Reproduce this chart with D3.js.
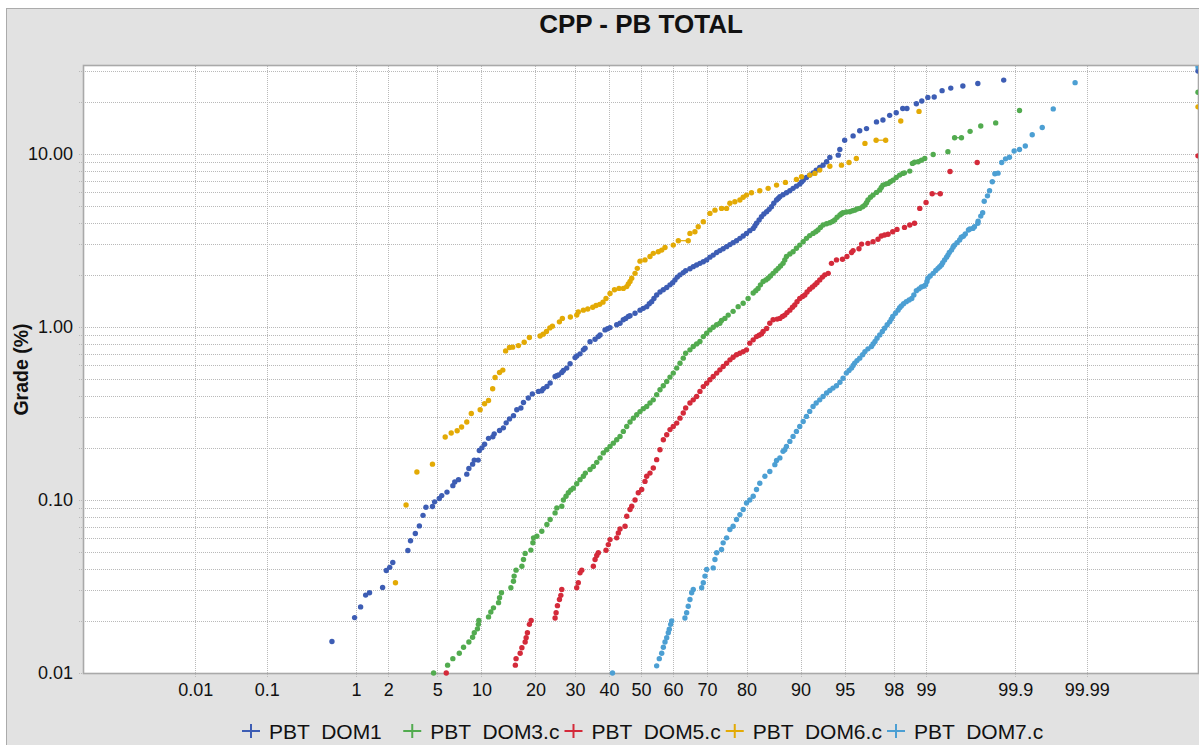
<!DOCTYPE html>
<html>
<head>
<meta charset="utf-8">
<script src="https://cdn.jsdelivr.net/npm/d3@7"></script>
<style>
  html, body { margin: 0; padding: 0; background: #ffffff; }
  svg { display: block; font-family: "Liberation Sans", Arial, sans-serif; }
</style>
</head>
<body>
<svg id="chart" width="1199" height="745"></svg>
<script>
// Cumulative probability (%) and grade (%) for each domain, sorted by grade.
const dom1 = [[0.57,0.0152],[0.97,0.0209],[1.11,0.0241],[1.24,0.0282],[1.35,0.0291],[1.78,0.0312],[1.92,0.0391],[2.06,0.0408],[2.19,0.0435],[2.94,0.051],[3.09,0.0581],[3.38,0.064],[3.64,0.0708],[3.89,0.0815],[4.10,0.0907],[4.60,0.0916],[4.77,0.0975],[5.17,0.102],[5.39,0.106],[5.88,0.111],[6.47,0.121],[6.67,0.127],[7.08,0.131],[8.05,0.141],[8.31,0.152],[8.79,0.161],[9.01,0.170],[9.54,0.170],[9.70,0.193],[10.07,0.200],[10.46,0.210],[11.06,0.227],[11.74,0.232],[11.96,0.241],[12.85,0.252],[13.52,0.261],[14.02,0.279],[14.63,0.294],[15.38,0.307],[16.03,0.332],[16.86,0.340],[17.39,0.366],[18.42,0.388],[19.30,0.410],[20.67,0.424],[21.45,0.428],[21.84,0.440],[22.67,0.453],[23.47,0.474],[24.71,0.517],[25.15,0.522],[25.57,0.528],[26.44,0.545],[26.86,0.560],[27.75,0.578],[28.66,0.612],[30.03,0.665],[30.50,0.680],[31.43,0.699],[32.38,0.737],[32.87,0.753],[34.31,0.822],[35.80,0.849],[36.78,0.879],[37.30,0.899],[38.79,0.961],[39.56,0.975],[40.33,0.991],[42.39,1.03],[43.42,1.05],[44.45,1.10],[45.20,1.12],[46.02,1.15],[46.55,1.16],[48.12,1.20],[49.69,1.25],[50.72,1.28],[51.79,1.31],[52.60,1.36],[53.35,1.40],[54.07,1.46],[54.92,1.53],[55.96,1.59],[56.99,1.64],[58.05,1.69],[59.06,1.75],[59.89,1.80],[60.59,1.87],[61.30,1.94],[62.12,2.00],[63.10,2.06],[63.82,2.11],[65.09,2.17],[66.06,2.23],[67.04,2.28],[67.99,2.33],[68.95,2.38],[69.89,2.44],[70.79,2.53],[71.69,2.60],[72.62,2.69],[73.47,2.76],[74.33,2.83],[75.21,2.91],[76.04,2.99],[76.84,3.07],[77.67,3.15],[78.47,3.25],[79.24,3.35],[80.00,3.47],[80.74,3.60],[81.48,3.71],[81.84,3.83],[82.19,3.97],[82.73,4.15],[83.22,4.33],[83.70,4.49],[84.25,4.63],[84.73,4.78],[85.18,4.95],[85.61,5.18],[86.11,5.41],[86.41,5.53],[86.70,5.65],[87.25,5.80],[87.82,5.96],[88.37,6.12],[88.88,6.32],[89.39,6.51],[89.88,6.69],[90.14,6.87],[90.37,7.05],[90.82,7.31],[91.25,7.54],[91.68,7.77],[92.07,8.05],[92.49,8.35],[92.87,8.61],[93.26,9.00],[93.60,9.54],[94.43,9.83],[94.57,10.6],[95.00,12.0],[95.68,12.7],[96.16,13.6],[96.61,14.0],[97.19,15.3],[97.52,15.7],[97.83,16.7],[98.10,17.3],[98.34,18.3],[98.48,18.3],[98.76,19.5],[98.90,20.2],[99.04,21.2],[99.17,21.3],[99.31,23.2],[99.44,24.0],[99.585,24.7],[99.718,25.5],[99.861,26.7],[99.999883,30.1]];

const dom3 = [[4.69,0.0100],[5.94,0.0111],[6.47,0.0121],[7.17,0.0130],[7.66,0.0141],[8.31,0.0151],[8.79,0.0161],[9.01,0.0171],[9.44,0.0180],[9.57,0.0191],[9.63,0.0201],[11.06,0.0211],[11.42,0.0225],[11.84,0.0238],[12.68,0.0255],[12.85,0.0272],[13.18,0.0291],[14.89,0.0311],[15.38,0.0339],[15.51,0.0363],[15.89,0.0393],[17.06,0.0414],[17.39,0.0453],[17.74,0.0491],[18.97,0.0513],[19.42,0.0566],[19.55,0.0604],[20.31,0.0617],[21.45,0.0659],[22.67,0.0721],[23.47,0.0771],[24.71,0.0842],[25.15,0.0900],[26.44,0.0919],[26.86,0.100],[27.56,0.105],[28.19,0.110],[28.85,0.114],[29.56,0.117],[30.50,0.124],[31.43,0.131],[32.38,0.137],[32.96,0.143],[34.31,0.150],[35.29,0.156],[36.30,0.165],[37.29,0.175],[38.27,0.187],[39.31,0.195],[40.33,0.204],[41.34,0.213],[42.39,0.223],[43.42,0.233],[44.45,0.249],[45.51,0.266],[46.55,0.282],[47.59,0.297],[48.65,0.311],[49.69,0.324],[50.72,0.337],[51.79,0.347],[52.82,0.363],[53.85,0.379],[54.92,0.406],[55.96,0.433],[56.99,0.457],[58.05,0.484],[59.06,0.513],[60.07,0.541],[61.12,0.578],[62.12,0.617],[63.10,0.660],[63.82,0.705],[65.09,0.737],[66.06,0.770],[67.04,0.798],[67.99,0.823],[68.95,0.879],[69.89,0.920],[70.79,0.961],[71.69,0.996],[72.62,1.03],[73.47,1.05],[73.91,1.09],[74.77,1.12],[75.62,1.17],[76.84,1.23],[78.06,1.31],[79.24,1.37],[80.36,1.46],[81.48,1.57],[82.04,1.62],[82.52,1.67],[83.01,1.75],[83.55,1.83],[84.11,1.87],[84.54,1.91],[84.99,1.97],[85.48,2.04],[85.98,2.11],[86.41,2.18],[86.82,2.25],[87.25,2.33],[87.54,2.44],[87.82,2.55],[88.37,2.64],[88.88,2.72],[89.39,2.85],[89.88,2.97],[90.37,3.11],[90.82,3.25],[91.25,3.37],[91.68,3.47],[92.02,3.55],[92.29,3.63],[92.57,3.76],[92.87,3.88],[93.26,3.95],[93.60,4.00],[93.87,4.07],[94.09,4.15],[94.32,4.30],[94.58,4.43],[94.72,4.51],[94.85,4.57],[95.14,4.61],[95.42,4.63],[95.63,4.69],[95.80,4.73],[95.97,4.80],[96.16,4.84],[96.36,4.95],[96.51,5.06],[96.61,5.22],[96.70,5.41],[96.85,5.61],[97.00,5.78],[97.19,5.99],[97.36,6.18],[97.44,6.40],[97.52,6.60],[97.65,6.69],[97.76,6.75],[97.86,6.90],[97.97,7.05],[98.10,7.31],[98.23,7.54],[98.34,7.71],[98.40,7.77],[98.57,7.95],[98.65,8.81],[98.71,8.95],[98.81,9.00],[98.89,9.20],[98.97,9.41],[99.15,9.92],[99.40,10.3],[99.49,12.4],[99.57,12.4],[99.655,13.5],[99.739,14.5],[99.826,15.1],[99.912,17.8],[99.999883,22.7]];

const dom5 = [[5.81,0.0100],[15.75,0.0111],[15.89,0.0121],[16.71,0.0130],[17.06,0.0140],[17.74,0.0151],[17.95,0.0160],[18.22,0.0171],[18.65,0.0191],[19.03,0.0201],[24.71,0.0208],[24.97,0.0223],[25.31,0.0245],[25.83,0.0266],[26.19,0.0281],[26.44,0.0304],[30.50,0.0311],[30.94,0.0332],[31.43,0.0379],[31.92,0.0393],[35.29,0.0414],[35.80,0.0453],[36.30,0.0478],[36.78,0.0495],[39.10,0.0512],[39.80,0.0552],[40.33,0.0590],[42.39,0.0604],[42.89,0.0645],[43.42,0.0680],[44.99,0.0705],[45.51,0.0805],[46.55,0.0880],[47.08,0.0919],[48.12,0.100],[49.15,0.110],[50.22,0.115],[51.25,0.128],[51.79,0.137],[52.82,0.143],[53.86,0.153],[54.92,0.171],[55.96,0.195],[57.00,0.223],[58.05,0.238],[59.06,0.255],[60.07,0.266],[61.12,0.278],[62.12,0.297],[63.10,0.318],[63.82,0.340],[65.09,0.363],[66.06,0.379],[67.04,0.396],[67.99,0.424],[68.95,0.452],[69.89,0.473],[70.79,0.495],[71.69,0.517],[72.62,0.541],[73.47,0.565],[74.33,0.590],[75.21,0.617],[76.06,0.645],[76.84,0.668],[77.67,0.690],[78.47,0.705],[79.24,0.720],[80.00,0.737],[80.74,0.806],[81.48,0.842],[82.19,0.879],[82.73,0.895],[83.22,0.911],[83.55,0.940],[84.25,0.980],[84.86,1.05],[85.48,1.10],[86.22,1.11],[86.70,1.12],[87.15,1.15],[87.54,1.17],[87.92,1.21],[88.37,1.25],[88.79,1.30],[89.14,1.34],[89.48,1.40],[89.88,1.46],[90.29,1.50],[90.60,1.53],[90.90,1.59],[91.25,1.65],[91.61,1.70],[91.91,1.75],[92.17,1.80],[92.49,1.87],[92.80,1.94],[93.07,2.00],[93.43,2.04],[93.77,2.33],[94.26,2.44],[94.81,2.46],[95.19,2.55],[95.56,2.69],[95.68,2.76],[96.11,2.83],[96.29,3.01],[96.70,3.04],[97.00,3.11],[97.27,3.21],[97.44,3.35],[97.60,3.40],[97.76,3.43],[97.96,3.55],[98.13,3.66],[98.40,3.76],[98.57,3.88],[98.71,3.97],[98.85,4.84],[99.00,5.24],[99.13,5.88],[99.28,5.88],[99.43,7.91],[99.713,8.92],[99.999883,9.74]];

const dom6 = [[2.31,0.0332],[2.84,0.0936],[3.48,0.145],[4.60,0.161],[5.71,0.231],[6.30,0.244],[6.93,0.251],[7.43,0.264],[8.05,0.282],[8.62,0.316],[9.82,0.332],[10.46,0.360],[11.06,0.376],[11.71,0.439],[12.10,0.510],[12.85,0.545],[13.42,0.563],[13.92,0.727],[14.63,0.760],[15.23,0.764],[16.36,0.780],[17.54,0.816],[18.65,0.868],[21.05,0.887],[21.77,0.908],[22.57,0.940],[23.39,0.987],[24.03,1.01],[25.82,1.07],[26.59,1.12],[28.74,1.14],[30.50,1.17],[30.94,1.22],[32.38,1.25],[33.65,1.27],[35.11,1.30],[36.10,1.33],[37.19,1.35],[38.18,1.39],[39.10,1.46],[40.33,1.56],[41.70,1.64],[43.11,1.67],[44.45,1.67],[45.51,1.71],[46.02,1.77],[46.55,1.83],[47.08,1.91],[48.12,2.04],[48.84,2.18],[49.69,2.40],[51.25,2.44],[52.82,2.55],[53.86,2.66],[55.42,2.72],[56.49,2.78],[57.52,2.88],[60.07,2.97],[61.61,3.15],[64.59,3.15],[65.09,3.47],[66.55,3.55],[67.50,3.79],[68.95,4.05],[70.79,4.53],[72.16,4.73],[73.91,4.84],[75.21,4.84],[76.04,5.18],[77.27,5.29],[78.47,5.41],[79.24,5.61],[80.00,5.78],[81.11,5.96],[82.87,6.12],[84.54,6.32],[86.11,6.60],[87.65,6.84],[89.39,7.12],[90.14,7.37],[91.25,7.54],[91.91,7.71],[92.49,8.06],[93.60,8.49],[94.72,8.61],[95.36,8.92],[95.92,9.41],[96.51,11.5],[97.17,12.0],[97.65,12.0],[98.27,15.5],[98.83,17.6],[99.999883,18.7]];

const dom7 = [[41.09,0.0100],[54.92,0.0110],[55.74,0.0121],[56.49,0.0130],[57.00,0.0141],[57.52,0.0151],[58.05,0.0160],[58.54,0.0171],[58.85,0.0179],[59.28,0.0191],[59.58,0.0200],[63.60,0.0208],[64.11,0.0223],[64.59,0.0243],[65.09,0.0266],[65.60,0.0291],[66.06,0.0304],[68.49,0.0311],[68.95,0.0332],[69.42,0.0363],[69.89,0.0396],[71.69,0.0405],[72.16,0.0453],[72.62,0.0495],[73.91,0.0517],[74.33,0.0565],[75.21,0.0604],[76.04,0.0675],[76.84,0.0705],[77.67,0.0771],[78.47,0.0823],[79.24,0.0880],[80.00,0.0961],[80.74,0.100],[81.48,0.105],[82.19,0.115],[82.87,0.125],[83.90,0.137],[84.86,0.146],[85.80,0.160],[86.11,0.169],[86.70,0.175],[87.25,0.191],[87.54,0.195],[87.82,0.204],[88.37,0.218],[88.88,0.233],[89.39,0.249],[89.88,0.266],[90.37,0.284],[90.82,0.304],[91.25,0.325],[91.68,0.347],[92.07,0.363],[92.49,0.379],[92.87,0.396],[93.26,0.415],[93.60,0.429],[93.92,0.443],[94.26,0.457],[94.58,0.479],[94.86,0.505],[95.14,0.541],[95.36,0.560],[95.56,0.578],[95.68,0.598],[95.80,0.618],[95.97,0.639],[96.16,0.660],[96.36,0.690],[96.51,0.720],[96.70,0.747],[96.91,0.770],[97.00,0.798],[97.11,0.823],[97.22,0.861],[97.36,0.899],[97.49,0.940],[97.60,0.983],[97.72,1.03],[97.83,1.07],[97.90,1.11],[97.96,1.15],[98.07,1.20],[98.17,1.25],[98.23,1.29],[98.29,1.32],[98.37,1.36],[98.46,1.40],[98.55,1.43],[98.63,1.46],[98.69,1.53],[98.76,1.62],[98.83,1.66],[98.89,1.70],[98.95,1.72],[98.99,1.75],[99.02,1.83],[99.04,1.91],[99.09,1.97],[99.15,2.04],[99.20,2.12],[99.24,2.18],[99.27,2.23],[99.30,2.28],[99.32,2.35],[99.35,2.44],[99.38,2.53],[99.40,2.60],[99.42,2.69],[99.45,2.78],[99.47,2.89],[99.49,2.97],[99.52,3.07],[99.55,3.18],[99.568,3.30],[99.59,3.34],[99.61,3.44],[99.64,3.63],[99.653,3.68],[99.679,3.71],[99.692,3.79],[99.718,3.97],[99.72,4.08],[99.739,4.37],[99.752,4.57],[99.762,5.32],[99.782,5.72],[99.794,6.12],[99.809,6.90],[99.822,7.67],[99.837,7.74],[99.853,8.92],[99.868,9.36],[99.882,9.57],[99.897,10.4],[99.912,10.6],[99.926,11.1],[99.940,12.9],[99.956,14.2],[99.969,18.2],[99.985,25.8],[99.999883,31.8]];

const seriesNames = ["PBT  DOM1", "PBT  DOM3.csv", "PBT  DOM5.csv", "PBT  DOM6.csv", "PBT  DOM7.csv"];
const seriesColors = ["#3d5db4", "#52ab4f", "#d42a3a", "#e3aa05", "#4c9fd3"];
const probTicks = [0.01, 0.1, 1, 2, 5, 10, 20, 30, 40, 50, 60, 70, 80, 90, 95, 98, 99, 99.9, 99.99];
const gradeLabels = [0.01, 0.1, 1, 10];
const probRange = [0.000117, 99.999883];
const gradeRange = [0.01, 32.2];
const title = "CPP - PB TOTAL";
const yTitle = "Grade (%)";

// Inverse standard normal CDF (Acklam's rational approximation).
function normalQuantile(p) {
  const a = [-3.969683028665376e+01, 2.209460984245205e+02, -2.759285104469687e+02, 1.383577518672690e+02, -3.066479806614716e+01, 2.506628277459239e+00];
  const b = [-5.447609879822406e+01, 1.615858368580409e+02, -1.556989798598866e+02, 6.680131188771972e+01, -1.328068155288572e+01];
  const c = [-7.784894002430293e-03, -3.223964580411365e-01, -2.400758277161838e+00, -2.549732539343734e+00, 4.374664141464968e+00, 2.938163982698783e+00];
  const d = [7.784695709041462e-03, 3.224671290700398e-01, 2.445134137142996e+00, 3.754408661907416e+00];
  const lo = 0.02425, hi = 1 - lo;
  let q, r;
  if (p < lo) {
    q = Math.sqrt(-2 * Math.log(p));
    return (((((c[0]*q + c[1])*q + c[2])*q + c[3])*q + c[4])*q + c[5]) / ((((d[0]*q + d[1])*q + d[2])*q + d[3])*q + 1);
  }
  if (p <= hi) {
    q = p - 0.5; r = q * q;
    return (((((a[0]*r + a[1])*r + a[2])*r + a[3])*r + a[4])*r + a[5]) * q / (((((b[0]*r + b[1])*r + b[2])*r + b[3])*r + b[4])*r + 1);
  }
  q = Math.sqrt(-2 * Math.log(1 - p));
  return -(((((c[0]*q + c[1])*q + c[2])*q + c[3])*q + c[4])*q + c[5]) / ((((d[0]*q + d[1])*q + d[2])*q + d[3])*q + 1);
}

// Probability axis: normal score, slightly compressed toward the tails.
function probScore(pct) {
  const z = normalQuantile(pct / 100);
  return z * (1 - 0.015 * Math.abs(z));
}

const W = 1199, H = 745;
const plot = { left: 84, top: 66, right: 1198, bottom: 673 };

const svg = d3.select("#chart");

// outer panel
svg.append("rect").attr("x", 6.5).attr("y", 8.5).attr("width", W).attr("height", H)
  .attr("fill", "#e2e2e2").attr("stroke", "#ababab").attr("stroke-width", 1);

const xLin = d3.scaleLinear().domain(probRange.map(probScore)).range([plot.left, plot.right]);
const x = p => xLin(probScore(p));
const y = d3.scaleLog().domain(gradeRange).range([plot.bottom, plot.top]);

// plot background
svg.append("rect").attr("x", plot.left).attr("y", plot.top)
  .attr("width", plot.right - plot.left).attr("height", plot.bottom - plot.top)
  .attr("fill", "#ffffff");

// horizontal grid: every 1..9 x 10^k inside the grade range
const gradeGrid = [];
for (let k = -2; k <= 1; k++) {
  for (let m = 1; m <= 9; m++) {
    const v = +(m * Math.pow(10, k)).toPrecision(3);
    if (v >= gradeRange[0] && v <= gradeRange[1]) gradeGrid.push(v);
  }
}
const grid = svg.append("g").attr("stroke", "#b9b9b9").attr("stroke-width", 1).attr("stroke-dasharray", "1,1");
grid.selectAll("line.h").data(gradeGrid).join("line").attr("class", "h")
  .attr("x1", plot.left - 5).attr("x2", plot.right)
  .attr("y1", d => Math.round(y(d)) + 0.5).attr("y2", d => Math.round(y(d)) + 0.5);
grid.selectAll("line.v").data(probTicks).join("line").attr("class", "v")
  .attr("x1", d => Math.round(x(d)) + 0.5).attr("x2", d => Math.round(x(d)) + 0.5)
  .attr("y1", plot.top).attr("y2", plot.bottom + 5);

// plot frame
svg.append("rect").attr("x", plot.left - 0.5).attr("y", plot.top - 0.5)
  .attr("width", plot.right - plot.left + 1).attr("height", plot.bottom - plot.top + 1)
  .attr("fill", "none").attr("stroke", "#a9a9a9").attr("stroke-width", 1.6);

// axis labels (text only; the grid carries the ticks)
const yAxis = d3.axisLeft(y).tickValues(gradeLabels).tickFormat(d3.format(".2f")).tickSize(0).tickPadding(11);
const gy = svg.append("g").attr("transform", `translate(${plot.left},0)`).call(yAxis);
gy.select(".domain").remove();
gy.selectAll("text").attr("font-size", 18).attr("fill", "#111").attr("font-family", "Liberation Sans, Arial, sans-serif");

const xAxis = d3.axisBottom(xLin).tickValues(probTicks.map(probScore))
  .tickFormat((d, i) => String(probTicks[i])).tickSize(0).tickPadding(10);
const gx = svg.append("g").attr("transform", `translate(0,${plot.bottom})`).call(xAxis);
gx.select(".domain").remove();
gx.selectAll("text").attr("font-size", 18).attr("fill", "#111").attr("font-family", "Liberation Sans, Arial, sans-serif");

// titles
svg.append("text").attr("x", (plot.left + plot.right) / 2).attr("y", 33)
  .attr("text-anchor", "middle").attr("font-size", 26).attr("font-weight", "bold").attr("fill", "#111")
  .text(title);
svg.append("text").attr("transform", `translate(28,${(plot.top + plot.bottom) / 2}) rotate(-90)`)
  .attr("text-anchor", "middle").attr("font-size", 19.5).attr("font-weight", "bold").attr("fill", "#111")
  .text(yTitle);

// data points
const series = [dom1, dom3, dom5, dom6, dom7];
svg.append("clipPath").attr("id", "plotClip").append("rect")
  .attr("x", plot.left).attr("y", plot.top).attr("width", plot.right - plot.left).attr("height", plot.bottom - plot.top + 4);
const marks = svg.append("g").attr("clip-path", "url(#plotClip)");
series.forEach((pts, si) => {
  const g = marks.append("g");
  // samples sharing the same grade are joined by a thin line
  const ties = pts.slice(1).map((p, i) => [pts[i], p]).filter(([a, b]) => a[1] === b[1]);
  g.selectAll("line").data(ties).join("line")
    .attr("x1", d => x(d[0][0])).attr("y1", d => y(d[0][1]))
    .attr("x2", d => x(d[1][0])).attr("y2", d => y(d[1][1]))
    .attr("stroke", seriesColors[si]).attr("stroke-width", 1.2);
  g.selectAll("circle").data(pts).join("circle")
    .attr("cx", d => x(d[0])).attr("cy", d => y(d[1])).attr("r", 2.7)
    .attr("fill", seriesColors[si]);
});

// legend
const legendX = d3.scalePoint().domain(d3.range(seriesNames.length)).range([251, 896]);
const itemW = legendX.step();
const legend = svg.append("g");
seriesNames.forEach((name, i) => {
  const cx = legendX(i);
  const cy = 731;
  svg.append("clipPath").attr("id", "lg" + i).append("rect")
    .attr("x", cx - 10).attr("y", cy - 16).attr("width", itemW - 4).attr("height", 30);
  const it = legend.append("g").attr("clip-path", `url(#lg${i})`);
  it.append("line").attr("x1", cx - 9).attr("x2", cx + 9).attr("y1", cy).attr("y2", cy)
    .attr("stroke", seriesColors[i]).attr("stroke-width", 2);
  it.append("line").attr("x1", cx).attr("x2", cx).attr("y1", cy - 7).attr("y2", cy + 7)
    .attr("stroke", seriesColors[i]).attr("stroke-width", 2);
  it.append("text").attr("x", cx + 18).attr("y", cy + 8).attr("font-size", 21).attr("fill", "#111")
    .style("white-space", "pre").text(name);
});
</script>
</body>
</html>
